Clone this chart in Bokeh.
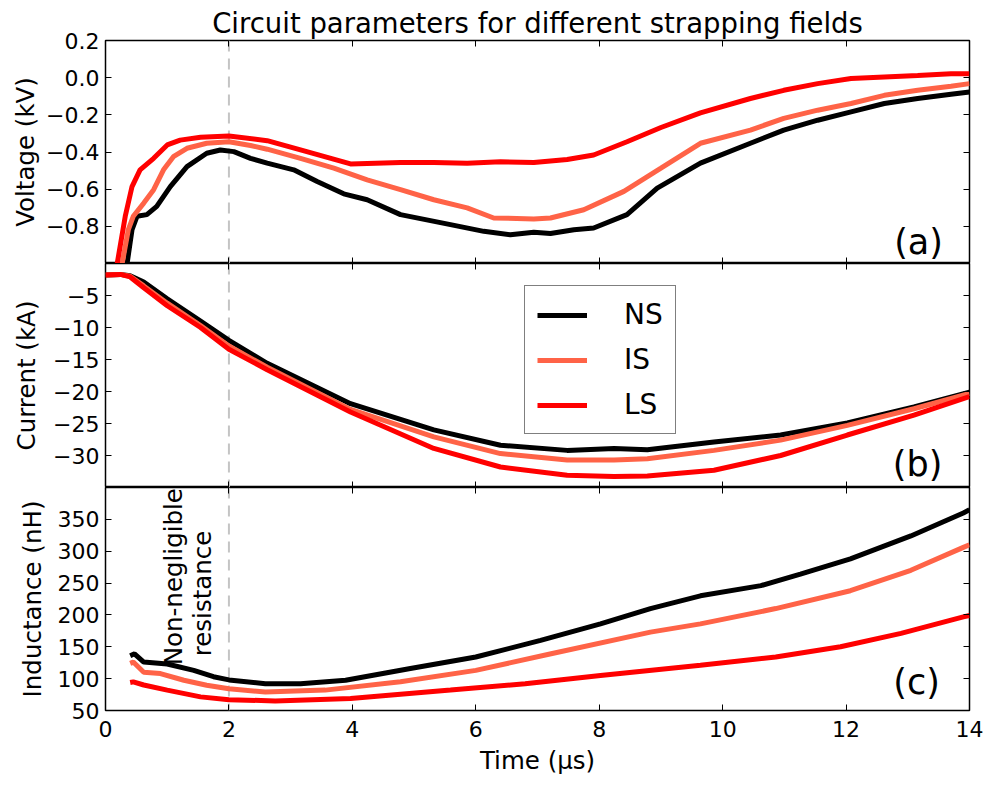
import math
from bokeh.plotting import figure
from bokeh.models import (Range1d, LinearAxis, FixedTicker, CustomJSTickFormatter,
                          Span, Label, Legend)
from bokeh.layouts import column
from bokeh.embed import file_html
from bokeh.resources import INLINE

FONT = "DejaVu Sans"

# ---------------- data ----------------
series_names = ["NS", "IS", "LS"]
series_colors = ["#000000", "#ff6347", "#ff0000"]

# (a) Voltage (kV)
t_v_ns = [0.32, 0.35, 0.43, 0.51, 0.67, 0.83, 1.05, 1.32, 1.64, 1.86, 2.08, 2.35, 2.62, 3.05,
          3.43, 3.86, 4.24, 4.78, 5.59, 6.13, 6.56, 6.94, 7.21, 7.59, 7.91, 8.45, 8.94, 9.64,
          10.45, 10.99, 11.54, 12.08, 12.62, 13.16, 13.7, 14.0]
v_ns = [-1.1, -1.0, -0.818, -0.746, -0.737, -0.693, -0.586, -0.479, -0.407, -0.389, -0.398,
        -0.434, -0.46, -0.496, -0.559, -0.625, -0.657, -0.737, -0.791, -0.827, -0.845, -0.832,
        -0.839, -0.818, -0.809, -0.737, -0.594, -0.46, -0.353, -0.282, -0.229, -0.184, -0.139,
        -0.112, -0.089, -0.077]
t_v_is = [0.24, 0.27, 0.37, 0.45, 0.62, 0.78, 0.94, 1.10, 1.32, 1.64, 2.0, 2.35, 2.62, 3.16,
          3.70, 4.24, 4.78, 5.32, 5.86, 6.29, 6.94, 7.21, 7.75, 8.40, 9.0, 9.64, 10.45, 10.99,
          11.54, 12.08, 12.62, 13.16, 13.7, 14.0]
v_is = [-1.1, -1.0, -0.818, -0.746, -0.675, -0.603, -0.496, -0.425, -0.38, -0.353, -0.345,
        -0.365, -0.385, -0.434, -0.487, -0.55, -0.603, -0.657, -0.701, -0.755, -0.760, -0.755,
        -0.711, -0.612, -0.487, -0.353, -0.282, -0.219, -0.175, -0.139, -0.095, -0.068,
        -0.046, -0.032]
t_v_ls = [0.16, 0.19, 0.32, 0.43, 0.56, 0.78, 1.0, 1.21, 1.54, 2.0, 2.62, 3.16, 3.97, 4.78,
          5.32, 5.86, 6.4, 6.94, 7.48, 7.91, 8.45, 9.0, 9.64, 10.45, 10.99, 11.54, 12.08,
          12.62, 13.16, 13.7, 14.0]
v_ls = [-1.1, -1.0, -0.746, -0.586, -0.496, -0.434, -0.362, -0.336, -0.321, -0.314, -0.339,
        -0.389, -0.464, -0.457, -0.457, -0.46, -0.453, -0.457, -0.44, -0.416, -0.345, -0.268,
        -0.189, -0.112, -0.068, -0.032, -0.005, 0.004, 0.012, 0.021, 0.021]

# (b) Current (kA)
t_i = [0.0, 0.24, 0.4, 0.62, 1.0, 1.54, 2.0, 2.62, 3.97, 5.32, 6.4, 7.48, 8.24, 8.78, 9.86,
       10.94, 12.02, 13.1, 14.0]
i_ns = [-1.8, -1.7, -1.9, -2.9, -5.5, -9.0, -12.0, -15.6, -21.9, -26.0, -28.4, -29.2, -28.9,
        -29.1, -27.9, -26.8, -24.9, -22.4, -20.1]
i_is = [-1.8, -1.7, -2.0, -3.5, -6.2, -9.7, -12.9, -16.2, -22.8, -27.1, -29.7, -30.7, -30.7,
        -30.5, -29.2, -27.6, -25.3, -22.7, -20.3]
i_ls = [-1.8, -1.7, -2.1, -3.8, -6.6, -10.0, -13.4, -16.6, -23.2, -28.9, -31.8, -33.1, -33.3,
        -33.2, -32.3, -30.0, -26.8, -23.7, -20.8]

# (c) Inductance (nH)
t_l_ns = [0.4, 0.47, 0.62, 1.0, 1.43, 1.75, 2.0, 2.59, 3.16, 3.89, 4.94, 6.0, 7.05, 8.02, 8.83,
          9.64, 10.62, 11.26, 12.07, 13.05, 13.9, 14.0]
l_ns = [136, 139, 126, 123, 113, 103, 98, 92, 92, 97.5, 116, 134, 160, 186, 210, 230, 246, 264,
        288, 324, 360, 365]
t_l_is = [0.4, 0.45, 0.62, 0.89, 1.27, 1.64, 2.0, 2.59, 3.56, 4.78, 6.0, 7.22, 8.83, 9.64, 10.86,
          12.07, 13.05, 13.9, 14.0]
l_is = [124, 126, 110, 108, 97.5, 89.7, 84, 79, 82, 95, 113, 139, 173, 186, 210, 238, 270, 306,
        310]
t_l_ls = [0.4, 0.45, 0.62, 1.0, 1.54, 2.0, 2.75, 3.97, 5.59, 6.8, 8.02, 9.64, 10.86, 11.91,
          12.89, 13.9, 14.0]
l_ls = [94, 95, 90, 82, 71.4, 67, 65, 69, 82, 92, 105, 121, 134, 150, 171, 197, 199]

x_ticks = [0, 2, 4, 6, 8, 10, 12, 14]
v_ticks = [0.2, 0.0, -0.2, -0.4, -0.6, -0.8]
i_ticks = [-5, -10, -15, -20, -25, -30]
l_ticks = [50, 100, 150, 200, 250, 300, 350]

# ---------------- helpers ----------------
FRAME_W = 864
TICK_FS = "22px"
LABEL_FS = "24.5px"


def style_axis(ax, labels):
    ax.axis_line_color = None
    ax.major_tick_in = 6
    ax.major_tick_out = 0
    ax.major_tick_line_color = "black"
    ax.major_tick_line_width = 1
    ax.minor_tick_line_color = None
    if labels:
        ax.major_label_text_font = FONT
        ax.major_label_text_font_size = TICK_FS
        ax.major_label_text_color = "black"
        ax.axis_label_text_font = FONT
        ax.axis_label_text_font_size = LABEL_FS
        ax.axis_label_text_font_style = "normal"
        ax.axis_label_text_color = "black"
    else:
        ax.major_label_text_font_size = "0px"
        ax.major_label_text_color = None
        ax.major_label_standoff = 0


def make_fig(frame_h, yr, yticks, ylabel, yfmt_code, bt, bb, xlabels, lab_standoff):
    p = figure(frame_width=FRAME_W, frame_height=frame_h,
               x_range=Range1d(0, 14), y_range=Range1d(*yr),
               x_axis_type=None, y_axis_type=None,
               toolbar_location=None, output_backend="svg",
               min_border_left=99, min_border_right=14,
               min_border_top=bt, min_border_bottom=bb)
    p.outline_line_color = "black"
    p.outline_line_width = 1.5
    p.background_fill_color = "white"
    p.border_fill_color = "white"

    yl = LinearAxis(ticker=FixedTicker(ticks=yticks),
                    formatter=CustomJSTickFormatter(code=yfmt_code),
                    axis_label=ylabel)
    style_axis(yl, True)
    yl.major_label_standoff = 6
    yl.axis_label_standoff = lab_standoff
    p.add_layout(yl, "left")

    yr_ax = LinearAxis(ticker=FixedTicker(ticks=yticks))
    style_axis(yr_ax, False)
    p.add_layout(yr_ax, "right")

    xb = LinearAxis(ticker=FixedTicker(ticks=x_ticks))
    if xlabels:
        style_axis(xb, True)
        xb.axis_label = "Time (\u03bcs)"
        xb.major_label_standoff = 10
        xb.axis_label_standoff = 6
    else:
        style_axis(xb, False)
    p.add_layout(xb, "below")

    xa = LinearAxis(ticker=FixedTicker(ticks=x_ticks))
    style_axis(xa, False)
    p.add_layout(xa, "above")

    p.add_layout(Span(location=2, dimension="height", line_color="#c4c4c4",
                      line_width=2, line_dash="11 7", level="underlay"))
    return p


fmt1 = "return (tick < -1e-9 ? '\\u2212' : '') + Math.abs(tick).toFixed(1);"
fmt0 = "return (tick < -1e-9 ? '\\u2212' : '') + Math.abs(tick).toFixed(0);"

p1 = make_fig(223, (-1.0, 0.2), v_ticks, "Voltage (kV)", fmt1, 32, 0, False, 3)
p2 = make_fig(224, (-35, 0), i_ticks, "Current (kA)", fmt0, 0, 0, False, 9)
p3 = make_fig(223, (50, 400), l_ticks, "Inductance (nH)", fmt0, 0, 66, True, 8)

p1.title.text = "Circuit parameters for different strapping fields"
p1.title.text_font = FONT
p1.title.text_font_size = "27.5px"
p1.title.text_font_style = "normal"
p1.title.align = "center"
p1.title.text_color = "black"
p1.title.standoff = 3

LW = 5
for tx, ys, c in zip([t_v_ns, t_v_is, t_v_ls], [v_ns, v_is, v_ls], series_colors):
    p1.line(tx, ys, line_color=c, line_width=LW)

items = []
for ys, c, n in zip([i_ns, i_is, i_ls], series_colors, series_names):
    r = p2.line(t_i, ys, line_color=c, line_width=LW)
    items.append((n, [r]))

for tx, ys, c in zip([t_l_ns, t_l_is, t_l_ls], [l_ns, l_is, l_ls], series_colors):
    p3.line(tx, ys, line_color=c, line_width=LW)

leg = Legend(items=items, location=(419, 53))
leg.label_text_font = FONT
leg.label_text_font_size = "28px"
leg.label_text_color = "black"
leg.glyph_width = 50
leg.glyph_height = 30
leg.label_height = 30
leg.spacing = 12
leg.padding = 12
leg.margin = 0
leg.label_standoff = 37
leg.border_line_color = "black"
leg.border_line_width = 1.5
leg.background_fill_color = "white"
leg.background_fill_alpha = 1.0
p2.add_layout(leg, "center")

for p, txt, xx, yy in [(p1, "(a)", 13.57, -0.882), (p2, "(b)", 13.56, -31.25),
                       (p3, "(c)", 13.52, 95.1)]:
    p.add_layout(Label(x=xx, y=yy, text=txt, text_font=FONT, text_font_size="35px",
                       text_align="right", text_baseline="middle", text_color="black"))

p3.add_layout(Label(x=1.104, y=260.0, text="Non-negligible", angle=math.pi / 2,
                    text_font=FONT, text_font_size=LABEL_FS, text_align="center",
                    text_baseline="middle", text_color="black"))
p3.add_layout(Label(x=1.57, y=233.7, text="resistance", angle=math.pi / 2,
                    text_font=FONT, text_font_size=LABEL_FS, text_align="center",
                    text_baseline="middle", text_color="black"))

layout = column(p1, p2, p3, spacing=0, margin=(3, 0, 0, 6))
open("out.html", "w").write(file_html(layout, INLINE))
